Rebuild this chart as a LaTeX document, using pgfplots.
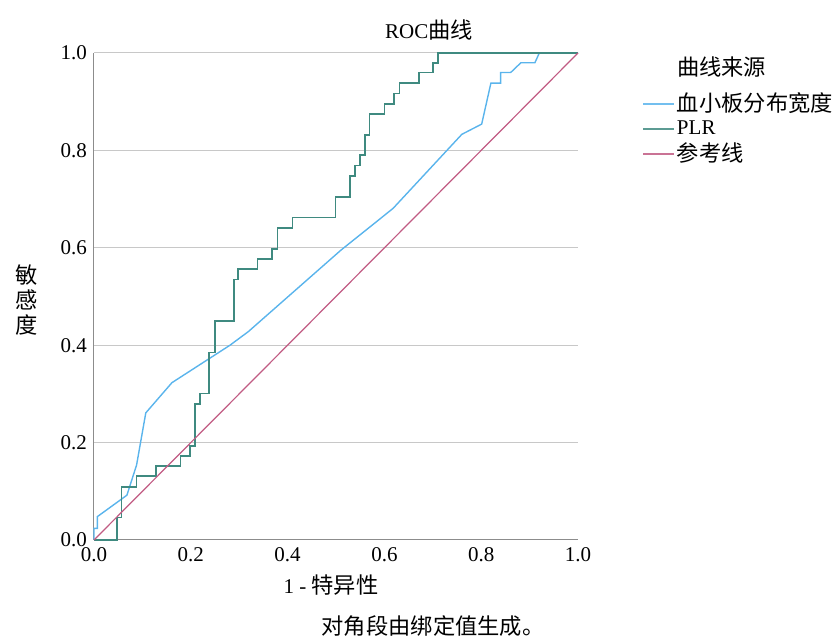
\documentclass[border=0pt]{standalone}
\usepackage{fontspec}
\setmainfont{Liberation Serif}
\newfontfamily\cjk[Scale=1.06]{Noto Sans CJK SC}
\usepackage{pgfplots}
\pgfplotsset{compat=1.18}
\definecolor{cblue}{HTML}{5AB4EC}
\definecolor{cgreen}{HTML}{3F8A80}
\definecolor{cpink}{HTML}{C15B83}
\definecolor{gridc}{HTML}{C8C8C8}
\definecolor{axc}{HTML}{8C8C8C}
\begin{document}
\fontsize{21}{25}\selectfont
\begin{tikzpicture}
\useasboundingbox (-94pt,-99pt) rectangle (739pt,540pt);
\begin{axis}[
  at={(0pt,0pt)}, anchor=south west,
  scale only axis, width=484pt, height=487pt,
  xmin=0, xmax=1, ymin=0, ymax=1,
  axis lines*=left,
  axis line style={-, draw=axc, line width=1pt},
  xtick={0,0.2,...,1}, ytick={0,0.2,...,1},
  major tick length=0pt,
  ymajorgrids, grid style={gridc, line width=1pt},
  /pgf/number format/assume math mode=true,
  xticklabel={\pgfmathprintnumber[fixed,fixed zerofill,precision=1]{\tick}},
  yticklabel={\pgfmathprintnumber[fixed,fixed zerofill,precision=1]{\tick}},
  tick label style={font=\fontsize{21}{25}\selectfont},
  clip=false,
  legend style={at={(rel axis cs:1.132,0.922)}, anchor=north west, draw=none, fill=none,
    font=\fontsize{21}{25}\selectfont, inner sep=0pt, row sep=0pt,
    nodes={inner sep=1.5pt, anchor=west, minimum height=25pt}},
  legend cell align=left,
  legend image code/.code={\draw[#1, line width=2.4pt, opacity=0.85] (0pt,0pt) -- (31pt,0pt);},
]
\addplot[cblue, line width=1.4pt] coordinates {
(0,0) (0,0.024) (0.007,0.024) (0.007,0.048) (0.068,0.092) (0.088,0.154) (0.107,0.261) (0.161,0.323) (0.281,0.400) (0.319,0.428) (0.51,0.595) (0.618,0.681) (0.760,0.833) (0.801,0.854) (0.820,0.938) (0.840,0.938) (0.840,0.960) (0.861,0.960) (0.882,0.980) (0.911,0.980) (0.920,1.0) (1,1)};
\addlegendentry{\cjk 血小板分布宽度}
\addplot[cgreen, line width=1.7pt, const plot] coordinates {
(0,0) (0.048,0.046) (0.057,0.109) (0.088,0.131) (0.128,0.152) (0.179,0.173) (0.198,0.193) (0.209,0.279) (0.219,0.301) (0.238,0.385) (0.25,0.450) (0.289,0.535) (0.298,0.556) (0.338,0.577) (0.368,0.598) (0.379,0.640) (0.410,0.662) (0.499,0.705) (0.529,0.747) (0.539,0.769) (0.550,0.790) (0.560,0.832) (0.569,0.875) (0.600,0.895) (0.620,0.917) (0.631,0.938) (0.671,0.960) (0.701,0.980) (0.711,1) (1,1)};
\addlegendentry{PLR}
\addplot[cpink, line width=1.2pt] coordinates {(0,0) (1,1)};
\addlegendentry{\cjk 参考线}
\end{axis}
\node at (335pt,510pt) {ROC{\cjk 曲线}};
\node at (237pt,-45pt) {1 - {\cjk 特异性}};
\node[inner sep=0pt] at (339pt,-86pt) {\cjk 对角段由绑定值生成。};
\node[align=center, inner sep=0pt] at (-67pt,240pt) {\cjk 敏\\[0pt]\cjk 感\\[0pt]\cjk 度};
\node[anchor=west, inner sep=0pt] at (583pt,473pt) {\cjk 曲线来源};
\end{tikzpicture}
\end{document}
